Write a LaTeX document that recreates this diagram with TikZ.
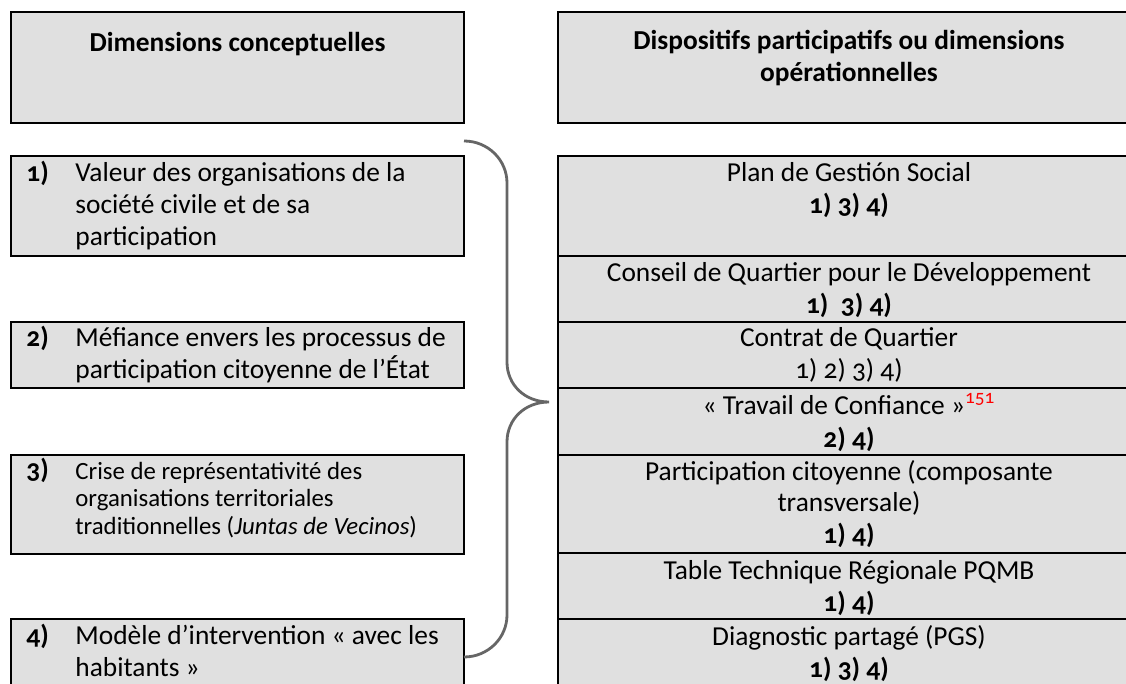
\documentclass[tikz,border=0pt]{standalone}
\usepackage{fontspec}
\setmainfont{Carlito}[Numbers=OldStyle]
\usetikzlibrary{positioning}
\definecolor{cellgray}{HTML}{E0E0E0}
\definecolor{bracegray}{HTML}{666666}
\definecolor{noteRed}{HTML}{FF0000}
\tikzset{
  cell/.style={draw=black, fill=cellgray, line width=0.7pt},
  txt/.style={inner sep=0pt, font=\fontsize{13.7}{16}\selectfont},
  lefttxt/.style={txt, anchor=base west, align=left},
  righttxt/.style={txt, anchor=base, align=center},
  numtxt/.style={txt, anchor=base west, font=\fontsize{13.7}{16}\selectfont\bfseries},
}

\begin{document}
\begin{tikzpicture}[x=0.5pt,y=-0.5pt]
  \clip (0,0) rectangle (1126,684);
  % headers
  \draw[cell] (11,12) rectangle (464,123);
  \draw[cell] (558,12) rectangle (1140,123);
  % left boxes (conceptual dimensions)
  \foreach \top/\bot in {156/256,322/388,455/554,619/700}
    \draw[cell] (11,\top) rectangle (464,\bot);
  % right rows (devices)
  \foreach \top/\bot in {156/256,256/322,322/388,388/455,455/553,553/619,619/700}
    \draw[cell] (558,\top) rectangle (1140,\bot);

  % texts sit on the baseline of their last line
  \node[txt, anchor=base, font=\fontsize{13.7}{16}\selectfont\bfseries] (headL) at (237.5,52) {Dimensions conceptuelles};
  \node[righttxt, font=\fontsize{13.7}{16}\selectfont\bfseries] (headR) at (849,82)
    {Dispositifs participatifs ou dimensions\\opérationnelles};

  \node[numtxt] (num1) at (26,182) {1)};
  \node[lefttxt] (dim1) at (75,246) {Valeur des organisations de la\\société civile et de sa\\participation};
  \node[numtxt] (num2) at (26,347) {2)};
  \node[lefttxt] (dim2) at (75,379) {Méfiance envers les processus de\\participation citoyenne de l’État};
  \node[numtxt] (num3) at (26,479) {3)};
  \node[lefttxt, font=\fontsize{12.4}{14}\selectfont] (dim3) at (75,535)
    {Crise de représentativité des\\organisations territoriales\\traditionnelles (\textit{Juntas de Vecinos})};
  \node[numtxt] (num4) at (26,644) {4)};
  \node[lefttxt] (dim4) at (75,676) {Modèle d’intervention «~avec les\\habitants~»};

  \node[righttxt] (dev1) at (849,214) {Plan de Gestión Social\\\textbf{1) 3) 4)}};
  \node[righttxt] (dev2) at (849,314) {Conseil de Quartier pour le Développement\\\textbf{1)~~3) 4)}};
  \node[righttxt] (dev3) at (849,379) {Contrat de Quartier\\1) 2) 3) 4)};
  \node[righttxt] (dev4) at (849,448) {«~Travail de Confiance~»\textsuperscript{\color{noteRed}151}\\[1pt]\textbf{2) 4)}};
  \node[righttxt] (dev5) at (849,544) {Participation citoyenne (composante\\transversale)\\\textbf{1) 4)}};
  \node[righttxt] (dev6) at (849,611) {Table Technique Régionale PQMB\\\textbf{1) 4)}};
  \node[righttxt] (dev7) at (849,677) {Diagnostic partagé (PGS)\\\textbf{1) 3) 4)}};

  % the brace
  \draw[bracegray, line width=1.4pt]
    (464,141) .. controls (488,141) and (507,160) .. (507,183) -- (507,362)
    .. controls (507,385) and (525,402) .. (549,402)
    .. controls (525,402) and (507,419) .. (507,442) -- (507,615)
    .. controls (507,638) and (488,657) .. (464,657);
\end{tikzpicture}
\end{document}
